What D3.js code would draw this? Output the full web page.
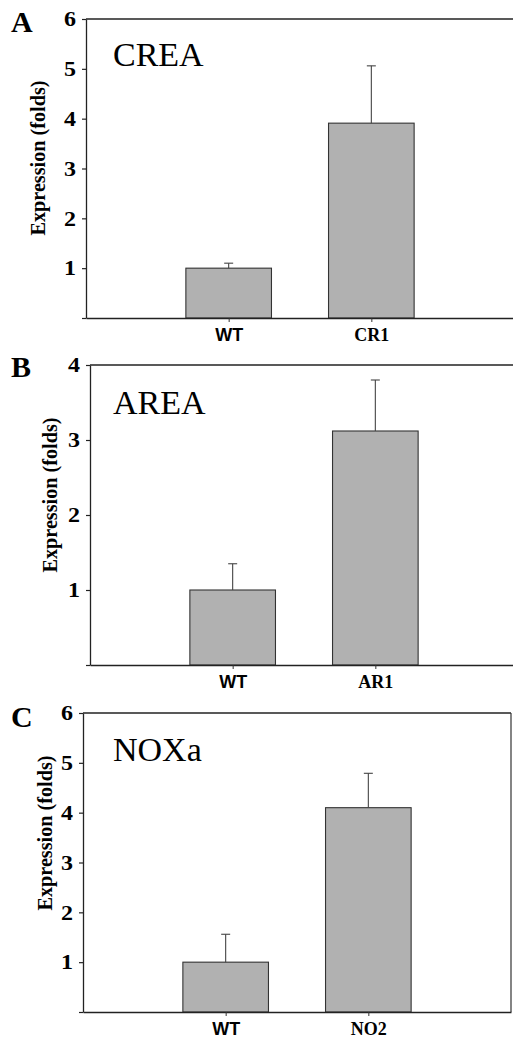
<!DOCTYPE html>
<html>
<head>
<meta charset="utf-8">
<script src="https://cdn.jsdelivr.net/npm/d3@7"></script>
<style>
  body { margin: 0; background: #fff; }
  svg { display: block; }
</style>
</head>
<body>
<div id="chart"></div>
<script>
// data
const catsA = ["WT", "CR1"];
const valsA = [1.0, 3.91];
const errA = [0.1, 1.15];

const catsB = ["WT", "AR1"];
const valsB = [1.0, 3.12];
const errB = [0.35, 0.68];

const catsC = ["WT", "NO2"];
const valsC = [1.0, 4.1];
const errC = [0.56, 0.69];

const ticksA = [0, 1, 2, 3, 4, 5, 6];
const ticksB = [0, 1, 2, 3, 4];
const ticksC = [0, 1, 2, 3, 4, 5, 6];

const yLabel = "Expression (folds)";

const SERIF = "'Liberation Serif', 'Times New Roman', serif";
const SANS = "'Liberation Sans', Arial, sans-serif";

// layout per panel
const panels = [
  { letter: "A", title: "CREA", cats: catsA, vals: valsA, errs: errA, ticks: ticksA,
    left: 86, right: 514, top: 19, bottom: 318, box: false,
    letterY: 32, titleY: 66, labelX: 38, labelY: 158 },
  { letter: "B", title: "AREA", cats: catsB, vals: valsB, errs: errB, ticks: ticksB,
    left: 90, right: 518, top: 365, bottom: 665, box: false,
    letterY: 377, titleY: 414, labelX: 50, labelY: 495 },
  { letter: "C", title: "NOXa", cats: catsC, vals: valsC, errs: errC, ticks: ticksC,
    left: 83, right: 511, top: 713, bottom: 1012, box: true,
    letterY: 727, titleY: 761, labelX: 45, labelY: 833 }
];

const width = 513, height = 1038;
const svg = d3.select("#chart").append("svg")
  .attr("width", width).attr("height", height);

svg.append("rect").attr("width", width).attr("height", height).attr("fill", "#fff");

panels.forEach((p) => {
  const g = svg.append("g");

  const x = d3.scalePoint().domain(p.cats).range([p.left, p.right]).padding(1);
  const y = d3.scaleLinear().domain([0, d3.max(p.ticks)]).range([p.bottom, p.top]);
  const barW = x.step() * 0.6;

  // frame top line (and right edge for C)
  g.append("line")
    .attr("x1", p.left).attr("x2", p.right)
    .attr("y1", y(d3.max(p.ticks))).attr("y2", y(d3.max(p.ticks)))
    .attr("stroke", "#222").attr("stroke-width", 1.3);
  if (p.box) {
    g.append("line")
      .attr("x1", p.right).attr("x2", p.right)
      .attr("y1", p.top).attr("y2", p.bottom)
      .attr("stroke", "#333").attr("stroke-width", 1.2);
  }

  // bars
  g.selectAll(".bar").data(p.cats).enter().append("rect")
    .attr("x", (d) => x(d) - barW / 2)
    .attr("y", (d, i) => y(p.vals[i]))
    .attr("width", barW)
    .attr("height", (d, i) => y(0) - y(p.vals[i]))
    .attr("fill", "#b1b1b1")
    .attr("stroke", "#333")
    .attr("stroke-width", 1.1);

  // error bars (upper only)
  g.selectAll(".err").data(p.cats).enter().append("line")
    .attr("x1", (d) => x(d)).attr("x2", (d) => x(d))
    .attr("y1", (d, i) => y(p.vals[i]))
    .attr("y2", (d, i) => y(p.vals[i] + p.errs[i]))
    .attr("stroke", "#444").attr("stroke-width", 1.1);
  g.selectAll(".cap").data(p.cats).enter().append("line")
    .attr("x1", (d) => x(d) - 4.5).attr("x2", (d) => x(d) + 4.5)
    .attr("y1", (d, i) => y(p.vals[i] + p.errs[i]))
    .attr("y2", (d, i) => y(p.vals[i] + p.errs[i]))
    .attr("stroke", "#444").attr("stroke-width", 1.1);

  // x axis
  const xAxis = g.append("g")
    .attr("transform", `translate(0,${p.bottom})`)
    .call(d3.axisBottom(x).tickSize(4).tickSizeOuter(0).tickPadding(6));
  xAxis.select(".domain").attr("stroke", "#222").attr("stroke-width", 1.3);
  xAxis.selectAll(".tick line").attr("stroke", "#333");
  xAxis.selectAll(".tick text")
    .attr("fill", "#000")
    .attr("font-weight", "bold")
    .attr("font-size", 18)
    .attr("font-family", (d) => d === "WT" ? SANS : SERIF);

  // y axis
  const yAxis = g.append("g")
    .attr("transform", `translate(${p.left},0)`)
    .call(d3.axisLeft(y).tickValues(p.ticks).tickFormat((d) => d === 0 ? "" : d)
      .tickSize(4).tickSizeOuter(0).tickPadding(6));
  yAxis.select(".domain").attr("stroke", "#222").attr("stroke-width", 1.3);
  yAxis.selectAll(".tick line").attr("stroke", "#222").attr("stroke-width", 1.2);
  yAxis.selectAll(".tick text")
    .attr("fill", "#000")
    .attr("font-family", SERIF)
    .attr("font-weight", "bold")
    .attr("font-size", 21)
    .attr("textLength", 12)
    .attr("lengthAdjust", "spacingAndGlyphs");

  // y label
  g.append("text")
    .attr("transform", `translate(${p.labelX},${p.labelY}) rotate(-90)`)
    .attr("text-anchor", "middle")
    .attr("dominant-baseline", "central")
    .attr("textLength", 155)
    .attr("lengthAdjust", "spacingAndGlyphs")
    .attr("font-family", SERIF)
    .attr("font-weight", "bold")
    .attr("font-size", 20)
    .text(yLabel);

  // panel title
  g.append("text")
    .attr("x", 113).attr("y", p.titleY)
    .attr("font-family", SERIF)
    .attr("font-size", 34)
    .text(p.title);

  // panel letter
  g.append("text")
    .attr("x", 11).attr("y", p.letterY)
    .attr("font-family", SERIF)
    .attr("font-weight", "bold")
    .attr("font-size", 30)
    .text(p.letter);
});
</script>
</body>
</html>
